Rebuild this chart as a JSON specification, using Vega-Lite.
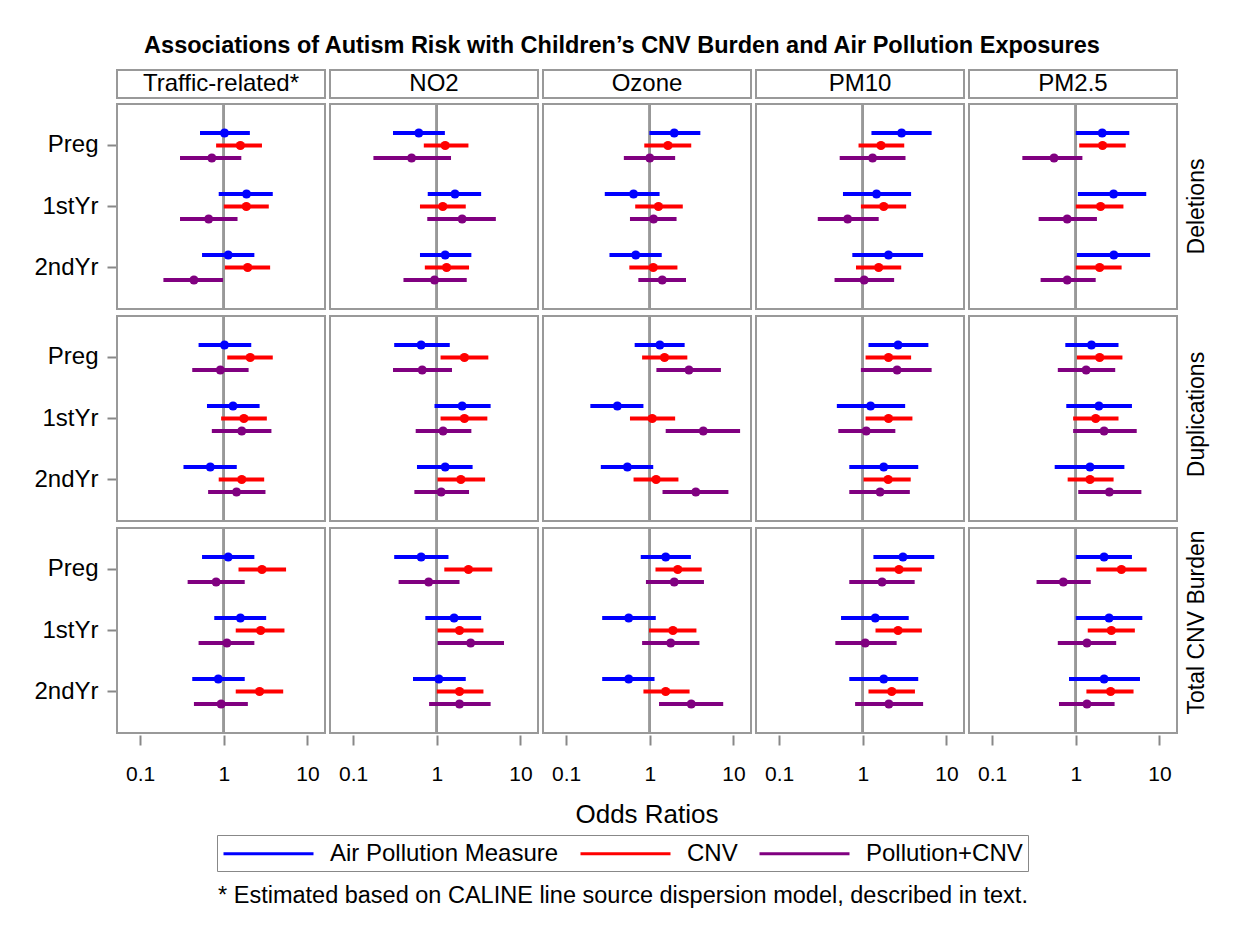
{
 "$schema": "https://vega.github.io/schema/vega-lite/v6.json",
 "background": "white",
 "padding": {"left": 33, "top": 33, "right": 20, "bottom": 10},
 "spacing": 3,
 "title": {"text": "* Estimated based on CALINE line source dispersion model, described in text.", "orient": "bottom", "anchor": "middle", "frame": "bounds", "fontSize": 23.5, "fontWeight": "normal", "color": "black", "offset": 12},
 "config": {
  "font": "Liberation Sans",
  "view": {"stroke": "#999999", "strokeWidth": 2},
  "axis": {"labelFontSize": 21, "labelColor": "black", "tickColor": "#888888", "tickWidth": 2, "domain": false, "grid": false},
  "axisY": {"labelFontSize": 24, "tickSize": 9, "labelPadding": 9},
  "axisX": {"tickSize": 10, "labelPadding": 18}
 },
 "datasets": {
  "cols": [{"poll": "Traffic-related*"}, {"poll": "NO2"}, {"poll": "Ozone"}, {"poll": "PM10"}, {"poll": "PM2.5"}],
  "rowsd": [{"cnv": "Deletions"}, {"cnv": "Duplications"}, {"cnv": "Total CNV Burden"}],
  "est": [
   {"cnv":"Deletions","poll":"Traffic-related*","period":"Preg","series":"Air Pollution Measure","or":1.02,"lo":0.52,"hi":2.05},
   {"cnv":"Deletions","poll":"Traffic-related*","period":"Preg","series":"CNV","or":1.58,"lo":0.81,"hi":2.86},
   {"cnv":"Deletions","poll":"Traffic-related*","period":"Preg","series":"Pollution+CNV","or":0.72,"lo":0.30,"hi":1.62},
   {"cnv":"Deletions","poll":"Traffic-related*","period":"1stYr","series":"Air Pollution Measure","or":1.87,"lo":0.87,"hi":3.85},
   {"cnv":"Deletions","poll":"Traffic-related*","period":"1stYr","series":"CNV","or":1.86,"lo":1.0,"hi":3.45},
   {"cnv":"Deletions","poll":"Traffic-related*","period":"1stYr","series":"Pollution+CNV","or":0.66,"lo":0.30,"hi":1.46},
   {"cnv":"Deletions","poll":"Traffic-related*","period":"2ndYr","series":"Air Pollution Measure","or":1.13,"lo":0.55,"hi":2.32},
   {"cnv":"Deletions","poll":"Traffic-related*","period":"2ndYr","series":"CNV","or":1.93,"lo":1.03,"hi":3.58},
   {"cnv":"Deletions","poll":"Traffic-related*","period":"2ndYr","series":"Pollution+CNV","or":0.44,"lo":0.19,"hi":0.98},
   {"cnv":"Deletions","poll":"NO2","period":"Preg","series":"Air Pollution Measure","or":0.61,"lo":0.30,"hi":1.25},
   {"cnv":"Deletions","poll":"NO2","period":"Preg","series":"CNV","or":1.26,"lo":0.70,"hi":2.39},
   {"cnv":"Deletions","poll":"NO2","period":"Preg","series":"Pollution+CNV","or":0.50,"lo":0.175,"hi":1.48},
   {"cnv":"Deletions","poll":"NO2","period":"1stYr","series":"Air Pollution Measure","or":1.65,"lo":0.78,"hi":3.39},
   {"cnv":"Deletions","poll":"NO2","period":"1stYr","series":"CNV","or":1.18,"lo":0.63,"hi":2.22},
   {"cnv":"Deletions","poll":"NO2","period":"1stYr","series":"Pollution+CNV","or":2.01,"lo":0.77,"hi":5.08},
   {"cnv":"Deletions","poll":"NO2","period":"2ndYr","series":"Air Pollution Measure","or":1.26,"lo":0.63,"hi":2.59},
   {"cnv":"Deletions","poll":"NO2","period":"2ndYr","series":"CNV","or":1.31,"lo":0.72,"hi":2.43},
   {"cnv":"Deletions","poll":"NO2","period":"2ndYr","series":"Pollution+CNV","or":0.94,"lo":0.40,"hi":2.28},
   {"cnv":"Deletions","poll":"Ozone","period":"Preg","series":"Air Pollution Measure","or":1.96,"lo":0.99,"hi":4.02},
   {"cnv":"Deletions","poll":"Ozone","period":"Preg","series":"CNV","or":1.65,"lo":0.86,"hi":3.13},
   {"cnv":"Deletions","poll":"Ozone","period":"Preg","series":"Pollution+CNV","or":1.0,"lo":0.49,"hi":2.01},
   {"cnv":"Deletions","poll":"Ozone","period":"1stYr","series":"Air Pollution Measure","or":0.64,"lo":0.29,"hi":1.31},
   {"cnv":"Deletions","poll":"Ozone","period":"1stYr","series":"CNV","or":1.27,"lo":0.67,"hi":2.48},
   {"cnv":"Deletions","poll":"Ozone","period":"1stYr","series":"Pollution+CNV","or":1.11,"lo":0.58,"hi":2.09},
   {"cnv":"Deletions","poll":"Ozone","period":"2ndYr","series":"Air Pollution Measure","or":0.68,"lo":0.33,"hi":1.39},
   {"cnv":"Deletions","poll":"Ozone","period":"2ndYr","series":"CNV","or":1.10,"lo":0.57,"hi":2.14},
   {"cnv":"Deletions","poll":"Ozone","period":"2ndYr","series":"Pollution+CNV","or":1.41,"lo":0.73,"hi":2.71},
   {"cnv":"Deletions","poll":"PM10","period":"Preg","series":"Air Pollution Measure","or":2.91,"lo":1.27,"hi":6.65},
   {"cnv":"Deletions","poll":"PM10","period":"Preg","series":"CNV","or":1.65,"lo":0.89,"hi":3.13},
   {"cnv":"Deletions","poll":"PM10","period":"Preg","series":"Pollution+CNV","or":1.31,"lo":0.53,"hi":3.24},
   {"cnv":"Deletions","poll":"PM10","period":"1stYr","series":"Air Pollution Measure","or":1.46,"lo":0.58,"hi":3.78},
   {"cnv":"Deletions","poll":"PM10","period":"1stYr","series":"CNV","or":1.78,"lo":0.95,"hi":3.30},
   {"cnv":"Deletions","poll":"PM10","period":"1stYr","series":"Pollution+CNV","or":0.66,"lo":0.29,"hi":1.55},
   {"cnv":"Deletions","poll":"PM10","period":"2ndYr","series":"Air Pollution Measure","or":2.03,"lo":0.75,"hi":5.26},
   {"cnv":"Deletions","poll":"PM10","period":"2ndYr","series":"CNV","or":1.55,"lo":0.83,"hi":2.88},
   {"cnv":"Deletions","poll":"PM10","period":"2ndYr","series":"Pollution+CNV","or":1.04,"lo":0.46,"hi":2.37},
   {"cnv":"Deletions","poll":"PM2.5","period":"Preg","series":"Air Pollution Measure","or":2.07,"lo":1.0,"hi":4.36},
   {"cnv":"Deletions","poll":"PM2.5","period":"Preg","series":"CNV","or":2.09,"lo":1.10,"hi":3.95},
   {"cnv":"Deletions","poll":"PM2.5","period":"Preg","series":"Pollution+CNV","or":0.55,"lo":0.23,"hi":1.20},
   {"cnv":"Deletions","poll":"PM2.5","period":"1stYr","series":"Air Pollution Measure","or":2.83,"lo":1.06,"hi":6.95},
   {"cnv":"Deletions","poll":"PM2.5","period":"1stYr","series":"CNV","or":1.98,"lo":1.0,"hi":3.71},
   {"cnv":"Deletions","poll":"PM2.5","period":"1stYr","series":"Pollution+CNV","or":0.79,"lo":0.36,"hi":1.79},
   {"cnv":"Deletions","poll":"PM2.5","period":"2ndYr","series":"Air Pollution Measure","or":2.85,"lo":1.03,"hi":7.74},
   {"cnv":"Deletions","poll":"PM2.5","period":"2ndYr","series":"CNV","or":1.93,"lo":1.0,"hi":3.53},
   {"cnv":"Deletions","poll":"PM2.5","period":"2ndYr","series":"Pollution+CNV","or":0.79,"lo":0.38,"hi":1.73},
   {"cnv":"Duplications","poll":"Traffic-related*","period":"Preg","series":"Air Pollution Measure","or":1.02,"lo":0.50,"hi":2.13},
   {"cnv":"Duplications","poll":"Traffic-related*","period":"Preg","series":"CNV","or":2.07,"lo":1.10,"hi":3.85},
   {"cnv":"Duplications","poll":"Traffic-related*","period":"Preg","series":"Pollution+CNV","or":0.91,"lo":0.42,"hi":1.98},
   {"cnv":"Duplications","poll":"Traffic-related*","period":"1stYr","series":"Air Pollution Measure","or":1.29,"lo":0.63,"hi":2.68},
   {"cnv":"Duplications","poll":"Traffic-related*","period":"1stYr","series":"CNV","or":1.74,"lo":0.93,"hi":3.27},
   {"cnv":"Duplications","poll":"Traffic-related*","period":"1stYr","series":"Pollution+CNV","or":1.64,"lo":0.72,"hi":3.71},
   {"cnv":"Duplications","poll":"Traffic-related*","period":"2ndYr","series":"Air Pollution Measure","or":0.69,"lo":0.33,"hi":1.43},
   {"cnv":"Duplications","poll":"Traffic-related*","period":"2ndYr","series":"CNV","or":1.64,"lo":0.87,"hi":3.04},
   {"cnv":"Duplications","poll":"Traffic-related*","period":"2ndYr","series":"Pollution+CNV","or":1.42,"lo":0.65,"hi":3.15},
   {"cnv":"Duplications","poll":"NO2","period":"Preg","series":"Air Pollution Measure","or":0.65,"lo":0.31,"hi":1.43},
   {"cnv":"Duplications","poll":"NO2","period":"Preg","series":"CNV","or":2.14,"lo":1.11,"hi":4.13},
   {"cnv":"Duplications","poll":"NO2","period":"Preg","series":"Pollution+CNV","or":0.67,"lo":0.30,"hi":1.52},
   {"cnv":"Duplications","poll":"NO2","period":"1stYr","series":"Air Pollution Measure","or":2.01,"lo":0.94,"hi":4.40},
   {"cnv":"Duplications","poll":"NO2","period":"1stYr","series":"CNV","or":2.14,"lo":1.11,"hi":4.02},
   {"cnv":"Duplications","poll":"NO2","period":"1stYr","series":"Pollution+CNV","or":1.19,"lo":0.56,"hi":2.59},
   {"cnv":"Duplications","poll":"NO2","period":"2ndYr","series":"Air Pollution Measure","or":1.26,"lo":0.58,"hi":2.68},
   {"cnv":"Duplications","poll":"NO2","period":"2ndYr","series":"CNV","or":1.94,"lo":1.02,"hi":3.78},
   {"cnv":"Duplications","poll":"NO2","period":"2ndYr","series":"Pollution+CNV","or":1.13,"lo":0.54,"hi":2.43},
   {"cnv":"Duplications","poll":"Ozone","period":"Preg","series":"Air Pollution Measure","or":1.32,"lo":0.66,"hi":2.61},
   {"cnv":"Duplications","poll":"Ozone","period":"Preg","series":"CNV","or":1.50,"lo":0.81,"hi":2.81},
   {"cnv":"Duplications","poll":"Ozone","period":"Preg","series":"Pollution+CNV","or":2.94,"lo":1.20,"hi":7.08},
   {"cnv":"Duplications","poll":"Ozone","period":"1stYr","series":"Air Pollution Measure","or":0.41,"lo":0.195,"hi":0.84},
   {"cnv":"Duplications","poll":"Ozone","period":"1stYr","series":"CNV","or":1.07,"lo":0.58,"hi":2.01},
   {"cnv":"Duplications","poll":"Ozone","period":"1stYr","series":"Pollution+CNV","or":4.36,"lo":1.55,"hi":12.0},
   {"cnv":"Duplications","poll":"Ozone","period":"2ndYr","series":"Air Pollution Measure","or":0.54,"lo":0.26,"hi":1.10},
   {"cnv":"Duplications","poll":"Ozone","period":"2ndYr","series":"CNV","or":1.19,"lo":0.64,"hi":2.20},
   {"cnv":"Duplications","poll":"Ozone","period":"2ndYr","series":"Pollution+CNV","or":3.55,"lo":1.42,"hi":8.7},
   {"cnv":"Duplications","poll":"PM10","period":"Preg","series":"Air Pollution Measure","or":2.64,"lo":1.17,"hi":6.08},
   {"cnv":"Duplications","poll":"PM10","period":"Preg","series":"CNV","or":2.03,"lo":1.08,"hi":3.78},
   {"cnv":"Duplications","poll":"PM10","period":"Preg","series":"Pollution+CNV","or":2.57,"lo":0.95,"hi":6.65},
   {"cnv":"Duplications","poll":"PM10","period":"1stYr","series":"Air Pollution Measure","or":1.24,"lo":0.49,"hi":3.21},
   {"cnv":"Duplications","poll":"PM10","period":"1stYr","series":"CNV","or":2.03,"lo":1.08,"hi":3.92},
   {"cnv":"Duplications","poll":"PM10","period":"1stYr","series":"Pollution+CNV","or":1.10,"lo":0.51,"hi":2.45},
   {"cnv":"Duplications","poll":"PM10","period":"2ndYr","series":"Air Pollution Measure","or":1.78,"lo":0.69,"hi":4.60},
   {"cnv":"Duplications","poll":"PM10","period":"2ndYr","series":"CNV","or":2.01,"lo":1.02,"hi":3.74},
   {"cnv":"Duplications","poll":"PM10","period":"2ndYr","series":"Pollution+CNV","or":1.61,"lo":0.69,"hi":3.65},
   {"cnv":"Duplications","poll":"PM2.5","period":"Preg","series":"Air Pollution Measure","or":1.54,"lo":0.75,"hi":3.24},
   {"cnv":"Duplications","poll":"PM2.5","period":"Preg","series":"CNV","or":1.93,"lo":1.03,"hi":3.61},
   {"cnv":"Duplications","poll":"PM2.5","period":"Preg","series":"Pollution+CNV","or":1.33,"lo":0.61,"hi":2.96},
   {"cnv":"Duplications","poll":"PM2.5","period":"1stYr","series":"Air Pollution Measure","or":1.89,"lo":0.77,"hi":4.69},
   {"cnv":"Duplications","poll":"PM2.5","period":"1stYr","series":"CNV","or":1.73,"lo":0.93,"hi":3.24},
   {"cnv":"Duplications","poll":"PM2.5","period":"1stYr","series":"Pollution+CNV","or":2.18,"lo":0.93,"hi":5.35},
   {"cnv":"Duplications","poll":"PM2.5","period":"2ndYr","series":"Air Pollution Measure","or":1.48,"lo":0.56,"hi":3.81},
   {"cnv":"Duplications","poll":"PM2.5","period":"2ndYr","series":"CNV","or":1.48,"lo":0.80,"hi":2.83},
   {"cnv":"Duplications","poll":"PM2.5","period":"2ndYr","series":"Pollution+CNV","or":2.52,"lo":1.07,"hi":6.08},
   {"cnv":"Total CNV Burden","poll":"Traffic-related*","period":"Preg","series":"Air Pollution Measure","or":1.13,"lo":0.55,"hi":2.32},
   {"cnv":"Total CNV Burden","poll":"Traffic-related*","period":"Preg","series":"CNV","or":2.86,"lo":1.50,"hi":5.55},
   {"cnv":"Total CNV Burden","poll":"Traffic-related*","period":"Preg","series":"Pollution+CNV","or":0.81,"lo":0.37,"hi":1.78},
   {"cnv":"Total CNV Burden","poll":"Traffic-related*","period":"1stYr","series":"Air Pollution Measure","or":1.58,"lo":0.77,"hi":3.21},
   {"cnv":"Total CNV Burden","poll":"Traffic-related*","period":"1stYr","series":"CNV","or":2.76,"lo":1.39,"hi":5.31},
   {"cnv":"Total CNV Burden","poll":"Traffic-related*","period":"1stYr","series":"Pollution+CNV","or":1.09,"lo":0.50,"hi":2.32},
   {"cnv":"Total CNV Burden","poll":"Traffic-related*","period":"2ndYr","series":"Air Pollution Measure","or":0.86,"lo":0.42,"hi":1.78},
   {"cnv":"Total CNV Burden","poll":"Traffic-related*","period":"2ndYr","series":"CNV","or":2.68,"lo":1.39,"hi":5.13},
   {"cnv":"Total CNV Burden","poll":"Traffic-related*","period":"2ndYr","series":"Pollution+CNV","or":0.93,"lo":0.44,"hi":1.94},
   {"cnv":"Total CNV Burden","poll":"NO2","period":"Preg","series":"Air Pollution Measure","or":0.65,"lo":0.31,"hi":1.38},
   {"cnv":"Total CNV Burden","poll":"NO2","period":"Preg","series":"CNV","or":2.39,"lo":1.23,"hi":4.60},
   {"cnv":"Total CNV Burden","poll":"NO2","period":"Preg","series":"Pollution+CNV","or":0.80,"lo":0.35,"hi":1.87},
   {"cnv":"Total CNV Burden","poll":"NO2","period":"1stYr","series":"Air Pollution Measure","or":1.61,"lo":0.73,"hi":3.39},
   {"cnv":"Total CNV Burden","poll":"NO2","period":"1stYr","series":"CNV","or":1.87,"lo":1.02,"hi":3.61},
   {"cnv":"Total CNV Burden","poll":"NO2","period":"1stYr","series":"Pollution+CNV","or":2.54,"lo":1.02,"hi":6.36},
   {"cnv":"Total CNV Burden","poll":"NO2","period":"2ndYr","series":"Air Pollution Measure","or":1.06,"lo":0.52,"hi":2.22},
   {"cnv":"Total CNV Burden","poll":"NO2","period":"2ndYr","series":"CNV","or":1.87,"lo":1.0,"hi":3.61},
   {"cnv":"Total CNV Burden","poll":"NO2","period":"2ndYr","series":"Pollution+CNV","or":1.87,"lo":0.81,"hi":4.40},
   {"cnv":"Total CNV Burden","poll":"Ozone","period":"Preg","series":"Air Pollution Measure","or":1.55,"lo":0.78,"hi":3.10},
   {"cnv":"Total CNV Burden","poll":"Ozone","period":"Preg","series":"CNV","or":2.16,"lo":1.17,"hi":4.17},
   {"cnv":"Total CNV Burden","poll":"Ozone","period":"Preg","series":"Pollution+CNV","or":1.96,"lo":0.90,"hi":4.44},
   {"cnv":"Total CNV Burden","poll":"Ozone","period":"1stYr","series":"Air Pollution Measure","or":0.56,"lo":0.27,"hi":1.18},
   {"cnv":"Total CNV Burden","poll":"Ozone","period":"1stYr","series":"CNV","or":1.89,"lo":0.98,"hi":3.61},
   {"cnv":"Total CNV Burden","poll":"Ozone","period":"1stYr","series":"Pollution+CNV","or":1.78,"lo":0.81,"hi":3.92},
   {"cnv":"Total CNV Burden","poll":"Ozone","period":"2ndYr","series":"Air Pollution Measure","or":0.56,"lo":0.27,"hi":1.14},
   {"cnv":"Total CNV Burden","poll":"Ozone","period":"2ndYr","series":"CNV","or":1.55,"lo":0.84,"hi":2.99},
   {"cnv":"Total CNV Burden","poll":"Ozone","period":"2ndYr","series":"Pollution+CNV","or":3.13,"lo":1.29,"hi":7.54},
   {"cnv":"Total CNV Burden","poll":"PM10","period":"Preg","series":"Air Pollution Measure","or":3.02,"lo":1.34,"hi":7.15},
   {"cnv":"Total CNV Burden","poll":"PM10","period":"Preg","series":"CNV","or":2.71,"lo":1.43,"hi":5.08},
   {"cnv":"Total CNV Burden","poll":"PM10","period":"Preg","series":"Pollution+CNV","or":1.70,"lo":0.69,"hi":4.17},
   {"cnv":"Total CNV Burden","poll":"PM10","period":"1stYr","series":"Air Pollution Measure","or":1.41,"lo":0.55,"hi":3.54},
   {"cnv":"Total CNV Burden","poll":"PM10","period":"1stYr","series":"CNV","or":2.64,"lo":1.42,"hi":5.08},
   {"cnv":"Total CNV Burden","poll":"PM10","period":"1stYr","series":"Pollution+CNV","or":1.07,"lo":0.47,"hi":2.54},
   {"cnv":"Total CNV Burden","poll":"PM10","period":"2ndYr","series":"Air Pollution Measure","or":1.78,"lo":0.69,"hi":4.60},
   {"cnv":"Total CNV Burden","poll":"PM10","period":"2ndYr","series":"CNV","or":2.22,"lo":1.17,"hi":4.20},
   {"cnv":"Total CNV Burden","poll":"PM10","period":"2ndYr","series":"Pollution+CNV","or":2.05,"lo":0.81,"hi":5.26},
   {"cnv":"Total CNV Burden","poll":"PM2.5","period":"Preg","series":"Air Pollution Measure","or":2.18,"lo":1.0,"hi":4.69},
   {"cnv":"Total CNV Burden","poll":"PM2.5","period":"Preg","series":"CNV","or":3.51,"lo":1.76,"hi":7.02},
   {"cnv":"Total CNV Burden","poll":"PM2.5","period":"Preg","series":"Pollution+CNV","or":0.71,"lo":0.34,"hi":1.51},
   {"cnv":"Total CNV Burden","poll":"PM2.5","period":"1stYr","series":"Air Pollution Measure","or":2.50,"lo":1.0,"hi":6.24},
   {"cnv":"Total CNV Burden","poll":"PM2.5","period":"1stYr","series":"CNV","or":2.66,"lo":1.39,"hi":5.08},
   {"cnv":"Total CNV Burden","poll":"PM2.5","period":"1stYr","series":"Pollution+CNV","or":1.36,"lo":0.61,"hi":3.04},
   {"cnv":"Total CNV Burden","poll":"PM2.5","period":"2ndYr","series":"Air Pollution Measure","or":2.18,"lo":0.83,"hi":5.85},
   {"cnv":"Total CNV Burden","poll":"PM2.5","period":"2ndYr","series":"CNV","or":2.61,"lo":1.34,"hi":4.90},
   {"cnv":"Total CNV Burden","poll":"PM2.5","period":"2ndYr","series":"Pollution+CNV","or":1.36,"lo":0.63,"hi":2.91}
  ]
 },
 "vconcat": [
  {
   "data": {"name": "cols"},
   "title": {"text": "Associations of Autism Risk with Children’s CNV Burden and Air Pollution Exposures", "anchor": "middle", "frame": "bounds", "dx": 16, "fontSize": 23.5, "fontWeight": "bold", "color": "black", "offset": 12},
   "facet": {"column": {"field": "poll", "type": "nominal", "sort": ["Traffic-related*", "NO2", "Ozone", "PM10", "PM2.5"], "header": {"labels": false, "title": null}}},
   "spacing": 3,
   "spec": {
    "width": 208,
    "height": 28,
    "mark": {"type": "text", "fontSize": 24, "color": "black"},
    "encoding": {
     "text": {"field": "poll", "type": "nominal"},
     "y": {"datum": "2ndYr", "type": "nominal", "axis": {"title": null, "labelColor": "white", "tickColor": "white"}}
    }
   }
  },
  {
   "spacing": 3,
   "hconcat": [
    {
     "data": {"name": "est"},
     "facet": {
      "row": {"field": "cnv", "type": "nominal", "sort": ["Deletions", "Duplications", "Total CNV Burden"], "header": {"labels": false, "title": null}},
      "column": {"field": "poll", "type": "nominal", "sort": ["Traffic-related*", "NO2", "Ozone", "PM10", "PM2.5"], "header": {"labels": false, "title": "Odds Ratios", "titleOrient": "bottom", "titleFontSize": 26, "titleFontWeight": "normal", "titleColor": "black", "titlePadding": 8}}
     },
     "spacing": 3,
     "spec": {
      "width": 208,
      "height": 205,
      "layer": [
       {
        "mark": {"type": "rule", "color": "#999999", "strokeWidth": 2},
        "encoding": {"x": {"datum": 1, "type": "quantitative", "scale": {"type": "log", "domain": [0.053, 16.2], "nice": false}, "axis": {"title": null, "values": [0.1, 1, 10], "format": "~g"}}}
       },
       {
        "mark": {"type": "rule", "strokeWidth": 4},
        "encoding": {
         "x": {"field": "lo", "type": "quantitative"},
         "x2": {"field": "hi"},
         "y": {"field": "period", "type": "nominal", "sort": ["Preg", "1stYr", "2ndYr"], "scale": {"paddingInner": 0, "paddingOuter": 0.18}, "axis": {"title": null}},
         "yOffset": {"field": "series", "type": "nominal", "sort": ["Air Pollution Measure", "CNV", "Pollution+CNV"], "scale": {"paddingInner": 0, "paddingOuter": 0.94}},
         "color": {"field": "series", "type": "nominal", "sort": ["Air Pollution Measure", "CNV", "Pollution+CNV"], "scale": {"domain": ["Air Pollution Measure", "CNV", "Pollution+CNV"], "range": ["#0000FF", "#FF0000", "#800080"]},
          "legend": {"title": null, "orient": "none", "legendX": 100, "legendY": 765, "direction": "horizontal", "symbolType": "M-1,0H6.5", "symbolSize": 576, "symbolStrokeWidth": 3, "labelFontSize": 24, "labelLimit": 500, "labelColor": "black", "strokeColor": "#888888", "padding": 5, "columnPadding": 15, "labelOffset": 81}}
        }
       },
       {
        "mark": {"type": "circle", "size": 85, "opacity": 1},
        "encoding": {
         "x": {"field": "or", "type": "quantitative"},
         "y": {"field": "period", "type": "nominal", "sort": ["Preg", "1stYr", "2ndYr"]},
         "yOffset": {"field": "series", "type": "nominal", "sort": ["Air Pollution Measure", "CNV", "Pollution+CNV"]},
         "color": {"field": "series", "type": "nominal"}
        }
       }
      ]
     }
    },
    {
     "data": {"name": "rowsd"},
     "facet": {"row": {"field": "cnv", "type": "nominal", "sort": ["Deletions", "Duplications", "Total CNV Burden"], "header": {"labels": false, "title": null}}},
     "spacing": 3,
     "spec": {
      "width": 31,
      "height": 205,
      "mark": {"type": "text", "angle": 270, "fontSize": 23, "color": "black"},
      "encoding": {"text": {"field": "cnv", "type": "nominal"}}
     }
    }
   ]
  }
 ]
}
